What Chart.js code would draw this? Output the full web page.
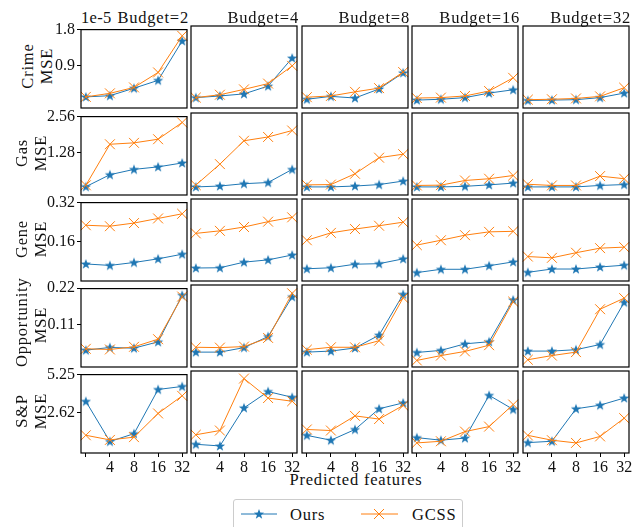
<!DOCTYPE html>
<html>
<head>
<meta charset="utf-8">
<script src="https://cdn.jsdelivr.net/npm/chart.js@4.4.1/dist/chart.umd.min.js"></script>
<style>
  body { margin: 0; background: #fff; }
  #fig { position: relative; width: 639px; height: 527px; overflow: hidden; font-family: "Liberation Serif", serif; color: #111; }
  #fig canvas { position: absolute; }
  .txt { position: absolute; font-size: 16.5px; line-height: 16px; white-space: nowrap; letter-spacing: 0.8px; }
  .ylab { position: absolute; width: 84px; height: 38px; text-align: center; font-size: 16.5px; line-height: 19px; letter-spacing: 0.8px; transform: rotate(-90deg); }
  #legend { position: absolute; left: 233px; top: 499px; width: 228px; height: 40px; border: 1px solid #ccc; border-radius: 3px; background: #fff; }
</style>
</head>
<body>
<div id="fig">
  <div class="txt" style="left:81px; top:10px; letter-spacing:0.3px">1e-5</div>
  <div class="txt" style="left:228px; top:472px; width:256px; text-align:center">Predicted features</div>
  <div id="legend">
    <svg width="228" height="30" style="position:absolute; left:0; top:0">
      <line x1="7" y1="14" x2="43" y2="14" stroke="#1f77b4" stroke-width="1"/>
      <polygon id="lstar" fill="#1f77b4"/>
      <line x1="127" y1="14" x2="164" y2="14" stroke="#ff7f0e" stroke-width="1"/>
      <path d="M140 9 L150 19 M140 19 L150 9" stroke="#ff7f0e" stroke-width="1" fill="none"/>
    </svg>
    <div class="txt" style="left:56px; top:7px">Ours</div>
    <div class="txt" style="left:178px; top:7px">GCSS</div>
  </div>
</div>
<script>
// x values and panel titles
const features = [2, 4, 8, 16, 32];
const budgets = [2, 4, 8, 16, 32];
const datasetNames = ['Crime', 'Gas', 'Gene', 'Opportunity', 'S&P'];
const yTicks = [[0.9, 1.8], [1.28, 2.56], [0.16, 0.32], [0.11, 0.22], [2.62, 5.25]];

// one inner list per budget, values per predicted-feature count
const crimeOurs = [
  [0.10, 0.13, 0.32, 0.52, 1.52],
  [0.07, 0.11, 0.16, 0.35, 1.03],
  [0.03, 0.10, 0.06, 0.28, 0.67],
  [0.01, 0.03, 0.07, 0.18, 0.26],
  [0.00, 0.01, 0.02, 0.07, 0.18]
];
const crimeGcss = [
  [0.10, 0.19, 0.34, 0.72, 1.65],
  [0.07, 0.14, 0.27, 0.41, 0.84],
  [0.08, 0.11, 0.21, 0.30, 0.69],
  [0.06, 0.07, 0.11, 0.23, 0.55],
  [0.02, 0.03, 0.05, 0.10, 0.31]
];
const gasOurs = [
  [0.05, 0.48, 0.67, 0.76, 0.90],
  [0.03, 0.06, 0.14, 0.18, 0.63],
  [0.03, 0.03, 0.06, 0.11, 0.23],
  [0.03, 0.03, 0.05, 0.10, 0.16],
  [0.03, 0.03, 0.03, 0.08, 0.11]
];
const gasGcss = [
  [0.10, 1.57, 1.62, 1.75, 2.35],
  [0.09, 0.81, 1.61, 1.74, 1.96],
  [0.10, 0.11, 0.48, 1.03, 1.15],
  [0.08, 0.09, 0.25, 0.31, 0.42],
  [0.12, 0.08, 0.08, 0.40, 0.31]
];
const geneOurs = [
  [0.068, 0.062, 0.074, 0.089, 0.108],
  [0.049, 0.050, 0.072, 0.081, 0.100],
  [0.046, 0.050, 0.064, 0.066, 0.085],
  [0.031, 0.044, 0.044, 0.058, 0.073],
  [0.032, 0.045, 0.045, 0.053, 0.060]
];
const geneGcss = [
  [0.227, 0.223, 0.236, 0.255, 0.274],
  [0.185, 0.195, 0.210, 0.231, 0.248],
  [0.158, 0.187, 0.202, 0.215, 0.229],
  [0.139, 0.158, 0.178, 0.191, 0.193],
  [0.094, 0.089, 0.109, 0.127, 0.131]
];
const oppOurs = [
  [0.033, 0.041, 0.039, 0.058, 0.199],
  [0.025, 0.025, 0.038, 0.070, 0.185],
  [0.025, 0.028, 0.037, 0.074, 0.192],
  [0.024, 0.030, 0.049, 0.055, 0.176],
  [0.028, 0.028, 0.032, 0.047, 0.169]
];
const oppGcss = [
  [0.037, 0.035, 0.043, 0.066, 0.195],
  [0.039, 0.038, 0.041, 0.066, 0.195],
  [0.032, 0.039, 0.039, 0.058, 0.182],
  [0.001, 0.015, 0.027, 0.045, 0.171],
  [0.003, 0.015, 0.025, 0.149, 0.181]
];
const spOurs = [
  [3.42, 0.64, 1.18, 4.24, 4.45],
  [0.42, 0.31, 2.83, 3.91, 3.53],
  [1.01, 0.69, 1.40, 2.77, 3.16],
  [0.86, 0.69, 0.83, 3.66, 2.73],
  [0.53, 0.62, 2.77, 3.01, 3.48]
];
const spGcss = [
  [1.07, 0.75, 0.94, 2.58, 3.80],
  [1.05, 1.33, 4.77, 3.48, 3.27],
  [1.40, 1.33, 2.30, 2.09, 2.99],
  [0.51, 0.62, 1.26, 1.59, 3.05],
  [1.01, 0.69, 0.51, 0.94, 2.15]
];

const oursRows = [crimeOurs, gasOurs, geneOurs, oppOurs, spOurs];
const gcssRows = [crimeGcss, gasGcss, geneGcss, oppGcss, spGcss];

// layout of the grid
const colLeft = [81, 191, 302, 412, 523];
const rowTop = [24, 111, 197, 283, 369];
const rowLabelX = [37, 31, 31, 31, 31];
const yMin = [-0.182, -0.247, -0.002, -0.018, -0.157];
const yMax = [1.807, 2.56, 0.32, 0.219, 5.27];
const PW = 108, PH = 84, YW = 45, XH = 30, PAD = 6;
const BLUE = '#1f77b4', ORANGE = '#ff7f0e';
const tickFont = { family: 'Liberation Serif', size: 16 };

function starPoints(cx, cy, ro, ri) {
  const pts = [];
  for (let i = 0; i < 10; i++) {
    const r = i % 2 ? ri : ro;
    const a = -Math.PI / 2 + i * Math.PI / 5;
    pts.push([cx + r * Math.cos(a), cy + r * Math.sin(a)]);
  }
  return pts;
}

// filled star marker for "Ours"
const starImg = document.createElement('canvas');
starImg.width = 12; starImg.height = 12;
(function () {
  const g = starImg.getContext('2d');
  g.fillStyle = BLUE;
  g.beginPath();
  starPoints(6, 6.4, 5.4, 2.2).forEach((p, i) => i ? g.lineTo(p[0], p[1]) : g.moveTo(p[0], p[1]));
  g.closePath();
  g.fill();
})();
document.getElementById('lstar').setAttribute('points',
  starPoints(25, 14.3, 5.4, 2.2).map(p => p.join(',')).join(' '));

const frame = {
  id: 'frame',
  afterDraw(chart) {
    const a = chart.chartArea, ctx = chart.ctx;
    ctx.save();
    ctx.strokeStyle = '#000';
    ctx.lineWidth = 1.2;
    ctx.strokeRect(a.left, a.top, a.right - a.left, a.bottom - a.top);
    ctx.restore();
  }
};

const fig = document.getElementById('fig');

for (let r = 0; r < 5; r++) {
  // row label
  const lab = document.createElement('div');
  lab.className = 'ylab';
  lab.style.left = (rowLabelX[r] - 42) + 'px';
  lab.style.top = (rowTop[r] + PH / 2 - 19) + 'px';
  lab.innerHTML = datasetNames[r].replace('&', '&amp;') + '<br>MSE';
  fig.appendChild(lab);

  for (let c = 0; c < 5; c++) {
    if (r === 0) {
      const t = document.createElement('div');
      t.className = 'txt';
      t.style.left = (colLeft[c] + PW - 200) + 'px';
      t.style.width = '200px';
      t.style.textAlign = 'right';
      t.style.top = '10px';
      t.textContent = 'Budget=' + budgets[c];
      fig.appendChild(t);
    }

    const cv = document.createElement('canvas');
    cv.width = YW + PW + PAD;
    cv.height = PAD + PH + XH;
    cv.style.left = (colLeft[c] - YW) + 'px';
    cv.style.top = (rowTop[r] - PAD) + 'px';
    fig.appendChild(cv);

    const bottom = r === 4, left = c === 0;

    new Chart(cv, {
      type: 'line',
      data: {
        datasets: [{
          label: 'GCSS',
          data: features.map((f, i) => ({ x: f, y: gcssRows[r][c][i] })),
          borderColor: ORANGE,
          backgroundColor: ORANGE,
          borderWidth: 1,
          pointStyle: 'crossRot',
          pointRadius: 7,
          pointBorderWidth: 1,
          clip: false,
          order: 0
        }, {
          label: 'Ours',
          data: features.map((f, i) => ({ x: f, y: oursRows[r][c][i] })),
          borderColor: BLUE,
          backgroundColor: BLUE,
          borderWidth: 1,
          pointStyle: starImg,
          pointRadius: 6,
          clip: false,
          order: 1
        }]
      },
      options: {
        responsive: false,
        animation: false,
        events: [],
        layout: { padding: { top: PAD, right: PAD, left: 0, bottom: 0 } },
        plugins: { legend: { display: false }, tooltip: { enabled: false } },
        scales: {
          x: {
            type: 'logarithmic',
            min: Math.pow(2, 0.8),
            max: Math.pow(2, 5.2),
            afterBuildTicks: s => { s.ticks = features.map(v => ({ value: v })); },
            afterFit: s => { s.height = XH; },
            border: { display: false },
            grid: { display: bottom, drawOnChartArea: false, tickLength: 4, color: '#000' },
            ticks: {
              display: bottom, padding: 1, autoSkip: false, maxRotation: 0,
              font: tickFont, color: '#111',
              callback: v => v === 2 ? '' : String(v)
            }
          },
          y: {
            min: yMin[r],
            max: yMax[r],
            afterBuildTicks: s => { s.ticks = yTicks[r].map(v => ({ value: v })); },
            afterFit: s => { s.width = YW; },
            border: { display: false },
            grid: { display: left, drawOnChartArea: false, tickLength: 4, color: '#000' },
            ticks: {
              display: left, padding: 2, font: tickFont, color: '#111',
              callback: v => String(v)
            }
          }
        }
      },
      plugins: [frame]
    });
  }
}
</script>
</body>
</html>
